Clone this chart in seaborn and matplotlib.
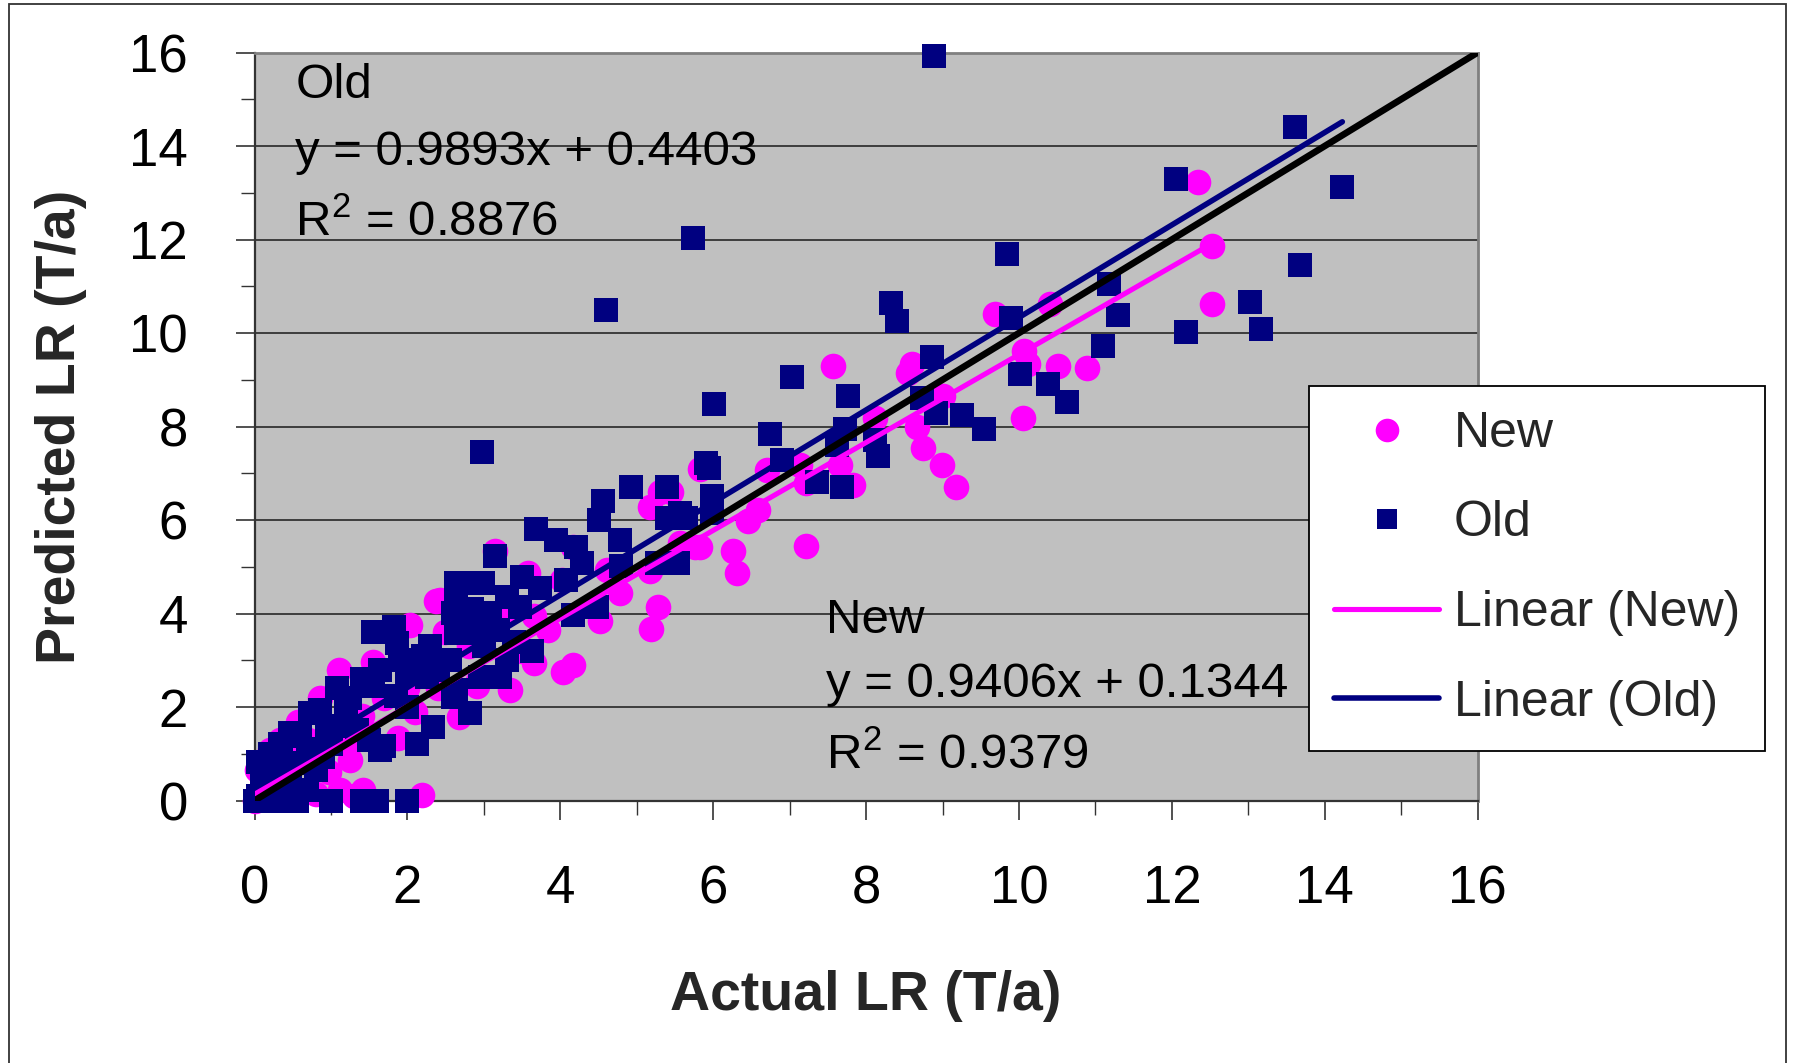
import numpy as np
import pandas as pd
import matplotlib
matplotlib.use("Agg")
import matplotlib.pyplot as plt
from matplotlib.lines import Line2D
from matplotlib.patches import Rectangle
from matplotlib.ticker import MultipleLocator
import seaborn as sns

# ---------------- data ----------------
old_x = [0.0, 0.1, 0.25, 0.4, 0.55, 1.0, 1.4, 1.6, 2.0,
         0.05, 0.2, 0.46, 0.68, 0.3, 0.15,
         0.05, 0.2, 0.33, 0.46, 0.6, 0.73, 0.86, 1.08, 0.81, 0.90, 1.0, 1.1, 1.34, 1.2, 1.25,
         1.4, 1.55, 1.64, 1.55, 1.82, 1.86, 1.9, 2.0, 2.25, 2.4, 2.6, 2.82, 2.34, 2.12, 1.64,
         1.5, 2.0, 2.2, 2.3, 2.5, 2.64, 2.95, 2.64, 2.85, 2.60, 3.08, 2.64, 2.91, 3.19, 2.56,
         2.95, 3.21, 2.64, 3.63, 3.0, 3.3, 3.4, 3.47, 3.30, 3.50, 3.73, 2.99, 3.15, 3.68, 3.95,
         4.21, 4.28, 4.08, 4.17, 4.48, 4.80, 4.78, 4.50, 4.56, 4.93, 5.40, 5.26, 5.54, 5.40,
         5.57, 5.65, 5.98, 5.98, 5.91, 5.95, 6.01, 2.97, 4.60, 5.73, 6.74, 6.90, 7.03, 7.36,
         7.68, 7.62, 7.72, 7.76, 8.12, 8.16, 8.33, 8.41, 8.73, 8.86, 8.92, 9.25, 9.54, 8.89,
         9.84, 9.90, 10.01, 10.38, 10.63, 11.10, 11.18, 11.29, 12.05, 12.19, 13.02, 13.16,
         13.61, 13.68, 14.23, 1.85, 1.69, 0.1, 0.35, 0.7, 0.5, 0.95]
old_y = [0.0, 0.0, 0.0, 0.0, 0.0, 0.0, 0.0, 0.0, 0.0,
         0.1, 0.35, 0.37, 0.22, 0.6, 0.5,
         0.83, 1.0, 1.22, 1.44, 1.37, 1.87, 1.94, 2.40, 0.65, 0.94, 1.2, 1.6, 1.51, 1.9, 2.2,
         2.6, 2.44, 2.79, 3.61, 3.72, 3.37, 3.0, 2.7, 2.65, 2.8, 2.22, 1.87, 1.58, 1.22, 1.08,
         1.3, 2.0, 3.1, 3.3, 3.0, 4.65, 4.65, 4.22, 4.1, 4.01, 4.01, 3.58, 3.58, 3.65, 3.01,
         2.65, 2.65, 2.37, 3.19, 3.3, 3.0, 3.4, 4.15, 4.36, 4.79, 4.54, 4.65, 5.22, 5.81, 5.58,
         5.43, 5.08, 4.72, 3.97, 4.15, 5.01, 5.58, 6.01, 6.40, 6.70, 6.70, 5.08, 5.08, 6.04,
         6.15, 6.04, 6.15, 6.51, 7.22, 7.11, 8.49, 7.46, 10.50, 12.04, 7.83, 7.29, 9.07, 6.81,
         6.71, 7.61, 7.95, 8.66, 7.72, 7.36, 10.65, 10.25, 8.60, 9.49, 8.29, 8.25, 7.95, 15.92,
         11.68, 10.33, 9.13, 8.90, 8.53, 9.72, 11.04, 10.38, 13.29, 10.03, 10.67, 10.08,
         14.41, 11.45, 13.12, 2.24, 1.16, 0.6, 0.9, 1.1, 0.8, 1.45]

new_x = [0.0, 0.03, 0.16, 1.12, 1.42, 2.19, 0.5, 0.8, 1.3,
         0.03, 0.2, 0.33, 0.57, 0.86, 1.10, 1.55, 2.03, 2.38, 2.49,
         1.25, 0.97, 1.88, 2.67, 2.91, 0.6, 0.7, 1.0, 1.4, 1.7, 2.0, 2.2, 2.4, 2.1, 1.2, 0.4,
         2.43, 2.8, 3.0, 3.15, 3.34, 2.91, 3.65, 3.65, 3.84, 4.04, 4.17, 4.02, 4.17, 3.58, 3.3,
         3.5, 4.52, 4.61, 4.78, 5.17, 5.17, 5.28, 5.18, 5.30, 5.45, 5.57, 5.76, 5.83, 5.83,
         6.26, 6.31, 6.46, 6.59, 6.70, 7.14, 7.21, 7.21, 7.57, 7.66, 7.83, 8.12, 8.55, 8.60,
         8.66, 8.74, 8.99, 9.01, 9.18, 9.69, 10.05, 10.06, 10.12, 10.41, 10.51, 10.89,
         12.34, 12.52, 12.52]
new_y = [0.0, 0.1, 0.30, 0.22, 0.22, 0.12, 0.1, 0.15, 0.1,
         0.65, 1.08, 1.30, 1.69, 2.19, 2.79, 2.97, 3.76, 4.26, 3.61,
         0.87, 0.62, 1.33, 1.79, 2.44, 0.9, 1.3, 1.5, 1.8, 2.2, 2.4, 2.9, 2.4, 1.9, 1.2, 0.7,
         4.29, 3.3, 3.6, 5.33, 2.37, 2.51, 3.94, 2.94, 3.65, 2.76, 2.90, 4.72, 5.43, 4.86, 4.0,
         3.2, 3.83, 4.94, 4.44, 4.90, 6.28, 4.15, 3.67, 6.61, 6.6, 5.51, 5.43, 7.1, 5.43,
         5.33, 4.87, 5.97, 6.22, 7.08, 7.18, 6.79, 5.45, 9.30, 7.18, 6.76, 8.18, 9.15, 9.33,
         8.00, 7.54, 7.18, 8.65, 6.70, 10.40, 8.18, 9.61, 9.33, 10.63, 9.30, 9.25,
         13.23, 11.86, 10.62]

new_fit = (0.9406, 0.1344)
old_fit = (0.9893, 0.4403)
ref_x = [0, 16]
ticks = list(range(0, 17, 2))

# ---------------- style ----------------
sns.set_style("white")
plt.rcParams['font.family'] = ['Liberation Sans', 'DejaVu Sans']
plt.rcParams['mathtext.default'] = 'regular'

MAG = '#FF00FF'
NAVY = '#000080'

fig = plt.figure(figsize=(17.95, 10.63), dpi=100)
ax = fig.add_axes([0.1418, 0.2469, 0.8232 - 0.1418, 0.9506 - 0.2469])
ax.set_facecolor('#C0C0C0')

new_df = pd.DataFrame({'x': new_x, 'y': new_y})
old_df = pd.DataFrame({'x': old_x, 'y': old_y})

sns.scatterplot(data=new_df, x='x', y='y', marker='o', s=340, color=MAG,
                linewidth=0, ax=ax, zorder=3, clip_on=False, legend=False)
sns.scatterplot(data=old_df, x='x', y='y', marker='s', s=300, color=NAVY,
                linewidth=0, ax=ax, zorder=4, clip_on=False, legend=False)

xn = np.array([min(new_x), max(new_x)])
xo = np.array([min(old_x), max(old_x)])
sns.lineplot(x=xn, y=new_fit[0] * xn + new_fit[1], color=MAG, linewidth=3.7, ax=ax,
             zorder=5, solid_capstyle='round')
sns.lineplot(x=xo, y=old_fit[0] * xo + old_fit[1], color=NAVY, linewidth=4.0, ax=ax,
             zorder=5, solid_capstyle='round')
sns.lineplot(x=ref_x, y=ref_x, color='black', linewidth=4.8, ax=ax, zorder=6,
             solid_capstyle='round')

ax.set_xlim(0, 16)
ax.set_ylim(0, 16)
ax.set_xticks(ticks)
ax.set_yticks(ticks)
ax.xaxis.set_minor_locator(MultipleLocator(1))
ax.yaxis.set_minor_locator(MultipleLocator(1))
ax.set_xticklabels([str(t) for t in ticks])
ax.set_yticklabels([str(t) for t in ticks])
ax.tick_params(axis='both', which='major', direction='out', length=14, width=1.2,
               color='#333333', labelsize=38, labelcolor='black')
ax.tick_params(axis='both', which='minor', direction='out', length=10, width=1.0,
               color='#333333')
ax.tick_params(axis='x', which='major', pad=32)
ax.tick_params(axis='y', which='major', pad=34)
ax.tick_params(left=True, bottom=True, which='both')

ax.yaxis.grid(True, which='major', color='#1a1a1a', lw=1.1)
ax.xaxis.grid(False)
ax.set_axisbelow(True)

for s in ['top', 'right']:
    ax.spines[s].set_color('#808080')
    ax.spines[s].set_linewidth(2.0)
for s in ['left', 'bottom']:
    ax.spines[s].set_color('#333333')
    ax.spines[s].set_linewidth(1.6)

ax.set_xlabel('Actual LR (T/a)', fontsize=40, fontweight='bold', labelpad=40)
ax.set_ylabel('Predicted LR (T/a)', fontsize=40, fontweight='bold', labelpad=30)

# annotations
tkw = dict(fontsize=35.5, ha='left', va='baseline', color='black', zorder=7)
ax.text(0.535, 15.03, 'Old', **tkw)
ax.text(0.535, 13.59, 'y = 0.9893x + 0.4403', **tkw)
ax.text(0.535, 12.09, 'R$^{2}$ = 0.8876', **tkw)
ax.text(7.48, 3.59, 'New', **tkw)
ax.text(7.48, 2.21, 'y = 0.9406x + 0.1344', **tkw)
ax.text(7.48, 0.67, 'R$^{2}$ = 0.9379', **tkw)

handles = [
    Line2D([], [], ls='none', marker='o', markersize=17, color=MAG, markeredgewidth=0),
    Line2D([], [], ls='none', marker='s', markersize=15, color=NAVY, markeredgewidth=0),
    Line2D([], [], color=MAG, lw=3.7, solid_capstyle='round'),
    Line2D([], [], color=NAVY, lw=4.0, solid_capstyle='round'),
]
labels = ['New', 'Old', 'Linear (New)', 'Linear (Old)']
leg = ax.legend(handles, labels, loc='upper left',
                bbox_to_anchor=(1309 / 1795, 1 - 386 / 1063),
                bbox_transform=fig.transFigure, fontsize=36, frameon=True,
                fancybox=False, framealpha=1, edgecolor='black',
                handlelength=2.1, handletextpad=0.3, labelspacing=0.87,
                borderpad=0.5, borderaxespad=0)
leg.get_frame().set_linewidth(1.3)
leg.set_zorder(10)

# outer chart border
fig.patches.append(Rectangle((9 / 1795, -0.02), (1786 - 9) / 1795, 1 - 4 / 1063 + 0.02,
                             transform=fig.transFigure, fill=False,
                             edgecolor='#333333', lw=1.3))

fig.savefig('out.png', dpi=100, facecolor='white')
